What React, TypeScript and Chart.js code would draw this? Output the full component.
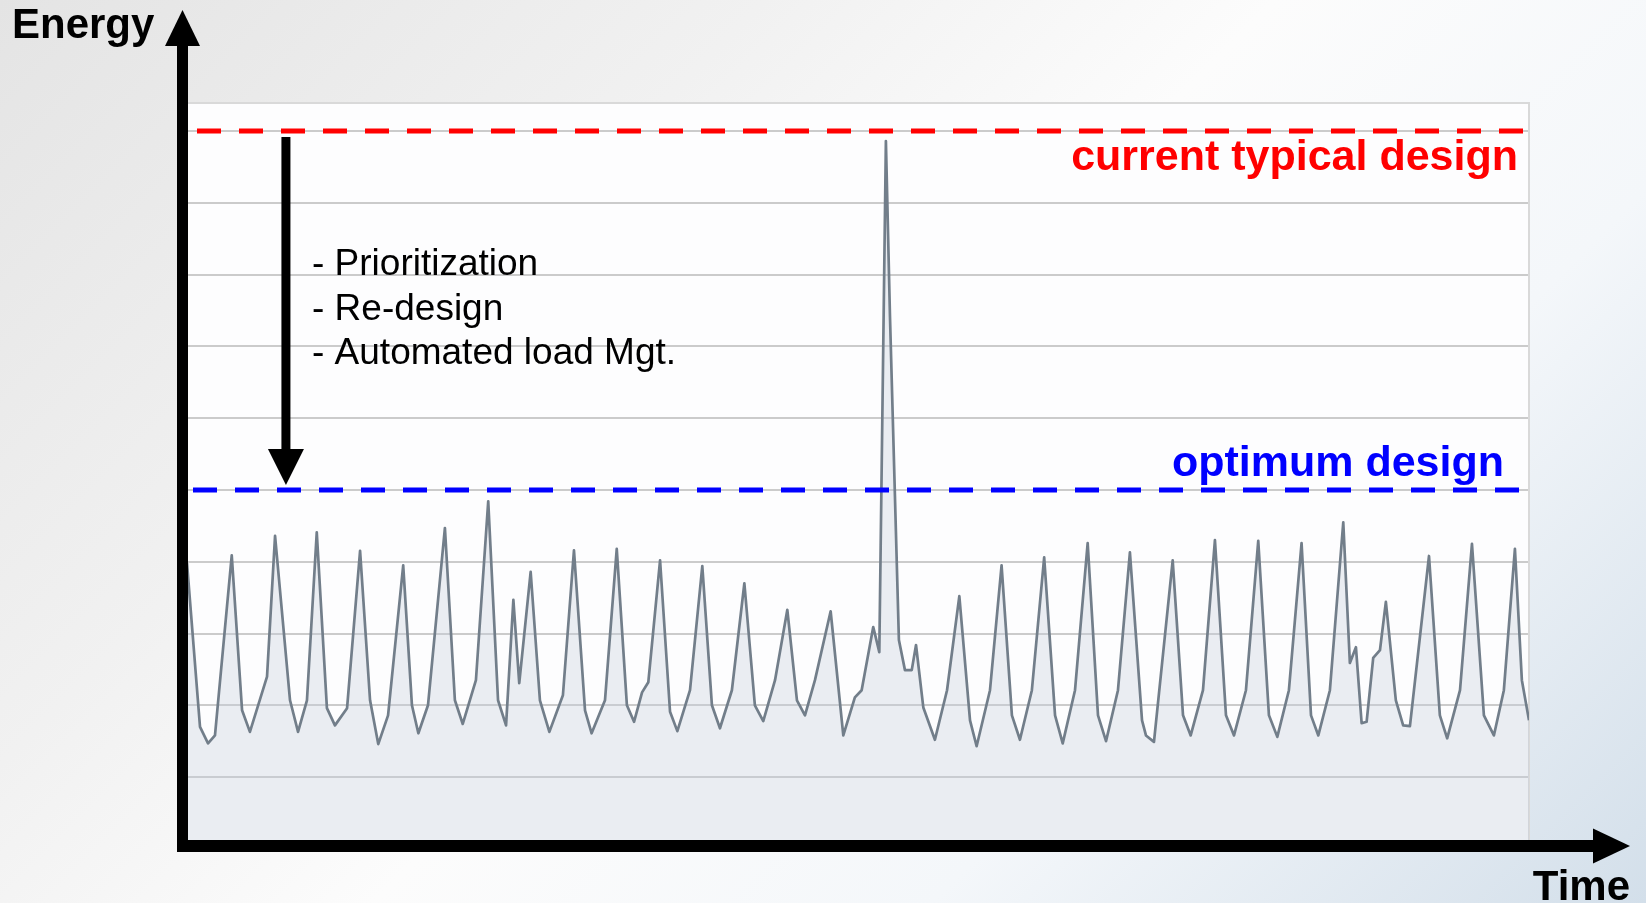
import React, { useEffect, useRef } from "react";
import { Chart, registerables } from "chart.js";

Chart.register(...registerables);

// Time in hours from the start of the record
const hours = [
  0, 7.3, 11.8, 15.7, 25.1, 30.9, 35.3, 44.9, 49.4, 57.8, 62.3, 67.3, 72.8, 78.5, 83.0, 89.8,
  97.1, 102.7, 107.3, 112.8, 121.3, 126.2, 129.8, 135.2, 144.7, 150.3, 154.7, 162.1, 169.0, 174.5,
  179.0, 183.1, 186.4, 192.8, 198.0, 203.3, 210.9, 217.1, 223.3, 227.0, 234.5, 241.1, 246.8, 250.8,
  255.3, 258.8, 265.4, 271.0, 275.1, 282.2, 289.1, 294.5, 299.0, 305.7, 312.7, 318.6, 323.3, 329.9,
  336.8, 342.2, 346.7, 352.3, 361.1, 368.2, 374.7, 378.5, 385.0, 388.4, 392.1, 394.4, 399.4, 402.8,
  406.6, 409.0, 413.1, 419.6, 426.4, 433.3, 439.3, 443.0, 450.5, 457.0, 462.8, 467.3, 474.0, 480.9,
  487.0, 491.3, 498.2, 505.3, 511.1, 515.6, 522.3, 529.0, 535.8, 538.0, 542.5, 553.0, 558.8, 563.1,
  570.0, 576.7, 582.9, 587.4, 594.1, 601.0, 607.0, 611.7, 618.2, 625.3, 630.6, 634.7, 641.2, 648.7,
  652.4, 655.8, 659.0, 661.8, 665.5, 669.3, 672.6, 678.2, 682.3, 686.1, 696.8, 702.9, 707.0, 714.2,
  720.9, 727.6, 733.2, 738.8, 745.0, 748.9, 752.9,
];

// Energy demand at each time
const energy = [
  39.8, 17.0, 14.7, 15.8, 40.9, 19.3, 16.3, 24.0, 43.6, 20.7, 16.3, 20.7, 44.1, 19.6, 17.2, 19.6,
  41.5, 20.7, 14.6, 18.6, 39.5, 20.0, 16.1, 20.0, 44.7, 20.7, 17.4, 23.5, 48.4, 20.7,
  17.2, 34.7, 23.1, 38.6, 20.7, 16.3, 21.4, 41.6, 19.3, 16.1, 20.7, 41.8, 20.0, 17.7,
  21.8, 23.2, 40.2, 19.1, 16.4, 22.1, 39.4, 20.0, 16.8, 22.1, 37.0, 20.0, 17.8, 23.5,
  33.3, 20.7, 18.6, 23.5, 33.1, 15.8, 21.1, 22.1, 30.9, 27.4, 98.6, 74.1, 29.1, 24.9,
  24.9, 28.4, 19.7, 15.2, 22.1, 35.2, 17.9, 14.3, 22.1, 39.5, 18.6, 15.2, 22.1, 40.6,
  18.6, 14.7, 22.1, 42.6, 18.6, 15.0, 22.1, 41.3, 17.9, 15.8, 14.9, 40.2, 18.6, 15.8,
  22.1, 43.0, 18.6, 15.8, 22.1, 42.9, 18.6, 15.6, 22.1, 42.6, 18.6, 15.8, 22.1, 45.5,
  25.9, 28.1, 17.5, 17.7, 26.6, 27.7, 34.4, 20.7, 17.2, 17.1, 40.8, 18.6, 15.4, 22.1,
  42.5, 18.6, 15.8, 22.1, 41.8, 23.5, 17.9,
];

const currentTypicalDesign = 100;
const optimumDesign = 50;
const gridValues = [10, 20, 30, 40, 50, 60, 70, 80, 90, 100];
const measures = ["- Prioritization", "- Re-design", "- Automated load Mgt."];
const labels = {
  current: "current typical design",
  optimum: "optimum design",
  yTitle: "Energy",
  xTitle: "Time",
};

const X_MIN = 0;
const X_MAX = 752.9;
const Y_MIN = 0.4;
const Y_MAX = 103.9;

const FONT = "'Liberation Sans', Arial, Helvetica, sans-serif";

const decorPlugin = {
  id: "decor",
  beforeDraw(chart: any) {
    const { ctx, chartArea: ca } = chart;
    ctx.save();
    ctx.fillStyle = "#fdfdfe";
    ctx.fillRect(ca.left, ca.top, ca.right - ca.left, ca.bottom - ca.top);
    ctx.restore();
  },
  beforeDatasetsDraw(chart: any) {
    const { ctx, chartArea: ca } = chart;
    ctx.save();
    ctx.strokeStyle = "#d9d9d9";
    ctx.lineWidth = 2;
    ctx.strokeRect(ca.left, ca.top, ca.right - ca.left, ca.bottom - ca.top);
    ctx.restore();
  },
  afterDraw(chart: any) {
    const { ctx, chartArea: ca, scales } = chart;
    const ys = scales.y;
    const xs = scales.x;
    ctx.save();

    // Down arrow from current to optimum design
    const ax = xs.getPixelForValue(55.5);
    const aTop = ys.getPixelForValue(currentTypicalDesign) + 6;
    const aTip = ys.getPixelForValue(optimumDesign) - 5;
    ctx.fillStyle = "#000";
    ctx.fillRect(ax - 4.5, aTop, 9, aTip - aTop - 30);
    ctx.beginPath();
    ctx.moveTo(ax - 18, aTip - 36);
    ctx.lineTo(ax + 18, aTip - 36);
    ctx.lineTo(ax, aTip);
    ctx.closePath();
    ctx.fill();

    // Measures text
    ctx.font = `37px ${FONT}`;
    ctx.textAlign = "left";
    ctx.textBaseline = "alphabetic";
    ctx.fillStyle = "#000";
    measures.forEach((m, i) => {
      ctx.fillText(m, 312, 275 + i * 44.5);
    });

    // Threshold labels
    ctx.font = `bold 43px ${FONT}`;
    ctx.textAlign = "right";
    ctx.fillStyle = "#ff0000";
    ctx.fillText(labels.current, ca.right - 11, ys.getPixelForValue(currentTypicalDesign) + 39);
    ctx.fillStyle = "#0000ff";
    ctx.fillText(labels.optimum, ca.right - 25, ys.getPixelForValue(optimumDesign) - 14);

    // Axes arrows
    ctx.fillStyle = "#000";
    const vx = ca.left - 4.5;
    const hy = ca.bottom;
    ctx.fillRect(vx - 5.5, 44, 11, hy + 6 - 44);
    ctx.beginPath();
    ctx.moveTo(vx - 17.5, 46);
    ctx.lineTo(vx + 17.5, 46);
    ctx.lineTo(vx, 10);
    ctx.closePath();
    ctx.fill();

    ctx.fillRect(vx - 5.5, hy - 6, 1595 - (vx - 5.5), 12);
    ctx.beginPath();
    ctx.moveTo(1593, hy - 17.5);
    ctx.lineTo(1593, hy + 17.5);
    ctx.lineTo(1630, hy);
    ctx.closePath();
    ctx.fill();

    // Axis titles
    ctx.font = `bold 42px ${FONT}`;
    ctx.textAlign = "left";
    ctx.fillText(labels.yTitle, 12, 38);
    ctx.textAlign = "right";
    ctx.fillText(labels.xTitle, 1630, 900);

    ctx.restore();
  },
};

export default function App() {
  const canvasRef = useRef<HTMLCanvasElement | null>(null);

  useEffect(() => {
    if (!canvasRef.current) return;
    const series = hours.map((h, i) => ({ x: h, y: energy[i] }));
    const chart = new Chart(canvasRef.current, {
      type: "line",
      data: {
        datasets: [
          {
            label: labels.current,
            data: [
              { x: X_MIN, y: currentTypicalDesign },
              { x: X_MAX, y: currentTypicalDesign },
            ],
            borderColor: "#ff0000",
            borderWidth: 5,
            borderDash: [24, 18],
            borderDashOffset: -10,
            pointRadius: 0,
            fill: false,
            order: 0,
          },
          {
            label: labels.optimum,
            data: [
              { x: X_MIN, y: optimumDesign },
              { x: X_MAX, y: optimumDesign },
            ],
            borderColor: "#0000ff",
            borderWidth: 5,
            borderDash: [24, 18],
            borderDashOffset: -6,
            pointRadius: 0,
            fill: false,
            order: 0,
          },
          {
            label: "Energy",
            data: series,
            borderColor: "#727e8a",
            borderWidth: 2.7,
            borderJoinStyle: "round",
            backgroundColor: "rgba(196,206,220,0.34)",
            fill: "start",
            pointRadius: 0,
            tension: 0,
            order: 1,
          },
        ],
      },
      options: {
        animation: false,
        responsive: true,
        maintainAspectRatio: false,
        layout: { padding: { left: 187, top: 103, right: 117, bottom: 57 } },
        plugins: {
          legend: { display: false },
          tooltip: { enabled: false },
        },
        scales: {
          x: {
            type: "linear",
            min: X_MIN,
            max: X_MAX,
            grid: { display: false, drawTicks: false },
            border: { display: false },
            ticks: { display: false },
          },
          y: {
            type: "linear",
            min: Y_MIN,
            max: Y_MAX,
            afterBuildTicks: (axis: any) => {
              axis.ticks = gridValues.map((v) => ({ value: v }));
            },
            grid: { color: "rgba(185,185,185,0.75)", lineWidth: 2, drawTicks: false },
            border: { display: false },
            ticks: { display: false },
          },
        },
      },
      plugins: [decorPlugin],
    });
    return () => chart.destroy();
  }, []);

  return (
    <div
      style={{
        position: "fixed",
        left: 0,
        top: 0,
        width: 1646,
        height: 903,
        background:
          "linear-gradient(135deg, #e4e4e4 0%, #f1f1f1 30%, #fcfcfc 50%, #f4f7fa 72%, #d3dfea 100%)",
      }}
    >
      <canvas ref={canvasRef} />
    </div>
  );
}
